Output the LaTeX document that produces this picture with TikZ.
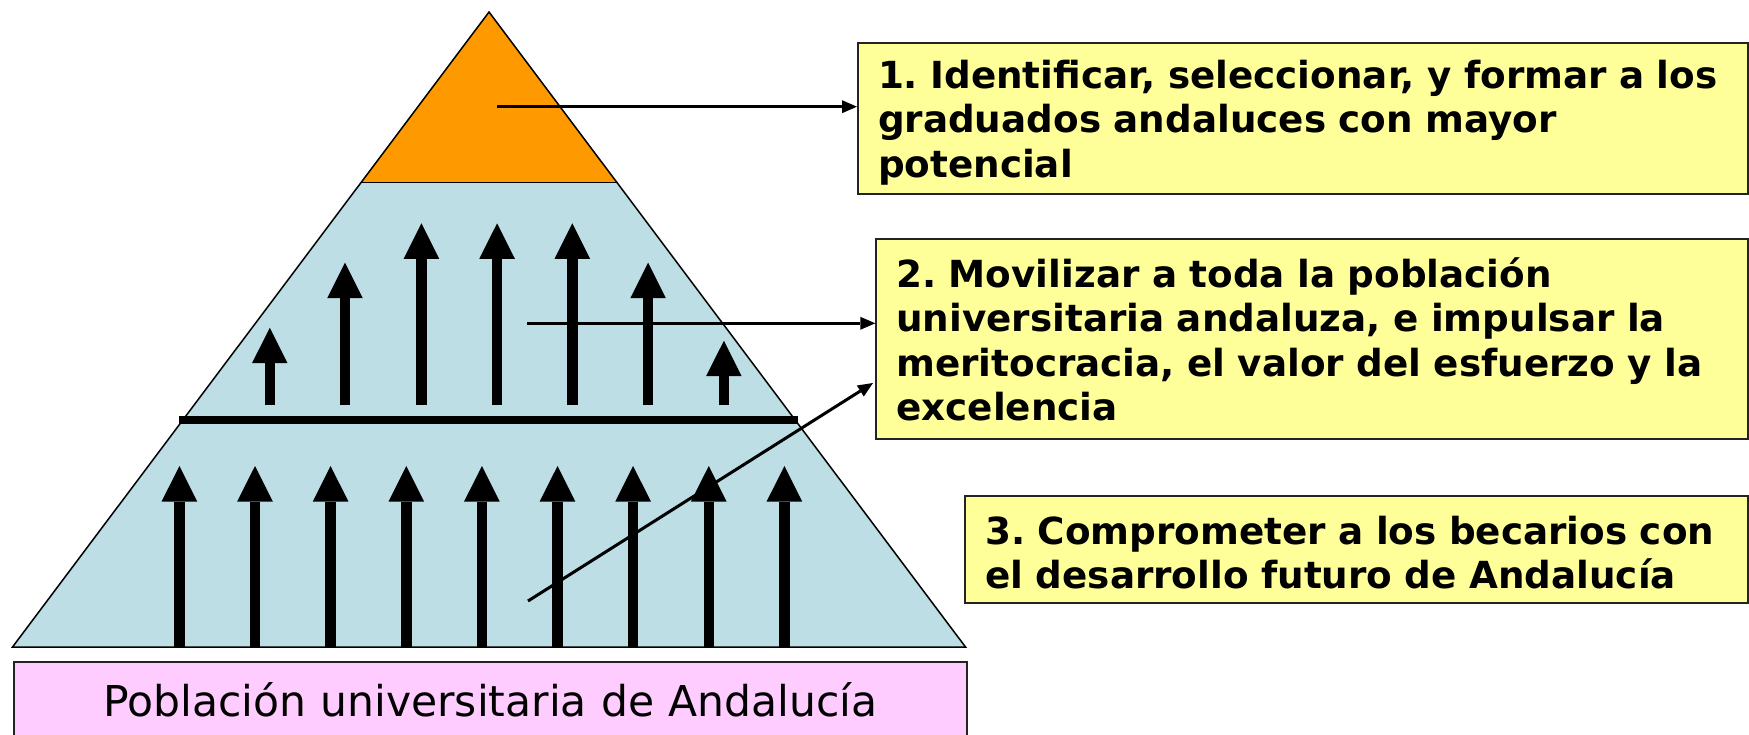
\documentclass[tikz,border=0pt]{standalone}
\usepackage{fontspec}
\setmainfont{DejaVu Sans}
\usetikzlibrary{arrows.meta}
\definecolor{pyrorange}{RGB}{255,153,0}
\definecolor{pyrblue}{RGB}{188,222,228}
\definecolor{boxyellow}{RGB}{255,255,153}
\definecolor{boxpink}{RGB}{255,204,255}
\definecolor{boxline}{RGB}{35,35,35}
\begin{document}
\frenchspacing
\begin{tikzpicture}[x=1pt,y=-1pt,
  goalbox/.style={draw=boxline, line width=2pt, fill=boxyellow, anchor=north west,
    align=left, inner xsep=20pt, inner ysep=0pt,
    font=\frenchspacing\bfseries\fontsize{37.3}{44.5}\selectfont},
  basebox/.style={draw=boxline, line width=2pt, fill=boxpink, anchor=north west,
    align=center, inner sep=0pt, font=\frenchspacing\fontsize{42.5}{50}\selectfont},
  uparrow/.style={line width=10.5pt, -{Triangle[length=35.5pt,width=35.6pt,line width=0pt]}},
  conn/.style={line width=3pt, -{Triangle[length=15pt,width=13pt,line width=0pt]}},
  pyredge/.style={draw=black, line width=1.5pt, line join=miter}]
\useasboundingbox (0,0) rectangle (1749,734);
\clip (0,0) rectangle (1749,734);

% pyramid
\coordinate (apex) at (489,12);
\coordinate (bl) at (12.5,647);
\coordinate (br) at (965.5,647);
\coordinate (ol) at (360.5,182.7);
\coordinate (or) at (617.5,182.7);
\fill[pyrblue] (apex) -- (br) -- (bl) -- cycle;
\fill[pyrorange] (apex) -- (or) -- (ol) -- cycle;
\draw[line width=1.2pt] (ol) -- (or);
\draw[pyredge] (apex) -- (br) -- (bl) -- cycle;

% dividing bar
\draw[line width=8pt] (179,420) -- (798,420);

% upper arrows
\foreach \x/\t in {269.8/327.7, 345/262.7, 421.4/223.3, 497.1/223.3, 572.3/223.3, 648.1/262.7, 723.9/340.7}
  \draw[uparrow] (\x,405) -- (\x,\t);

% lower arrows
\foreach \x in {179.4,255,330.6,406.3,481.9,557.5,633.1,708.75,784.4}
  \draw[uparrow] (\x,647) -- (\x,466);

% goal boxes
\node[goalbox, text width=850pt, text height=44.7pt, text depth=105.7pt] (g1) at (857,42.3)
  {1. Identificar, seleccionar, y formar a los\\graduados andaluces con mayor\\potencial};
\node[goalbox, text width=831.7pt, text height=47.7pt, text depth=151.5pt] (g2) at (875.3,238.3)
  {2. Movilizar a toda la población\\universitaria andaluza, e impulsar la\\meritocracia, el valor del esfuerzo y la\\excelencia};
\node[goalbox, text width=742.7pt, text height=48.3pt, text depth=58.4pt] (g3) at (964.3,495)
  {3. Comprometer a los becarios con\\el desarrollo futuro de Andalucía};

% base box
\node[basebox, text width=953pt, text height=53.7pt, text depth=40pt] (base) at (12.7,661.3)
  {Población universitaria de Andalucía};

% connectors
\coordinate (s1) at (497,106.7);
\coordinate (s2) at (527,323.3);
\coordinate (s3) at (528,601);
\coordinate (t3) at (873,383);
\draw[conn] (s1) -- (s1 -| g1.west);
\draw[conn] (s2) -- (s2 -| g2.west);
\draw[conn] (s3) -- (t3);
\end{tikzpicture}
\end{document}
